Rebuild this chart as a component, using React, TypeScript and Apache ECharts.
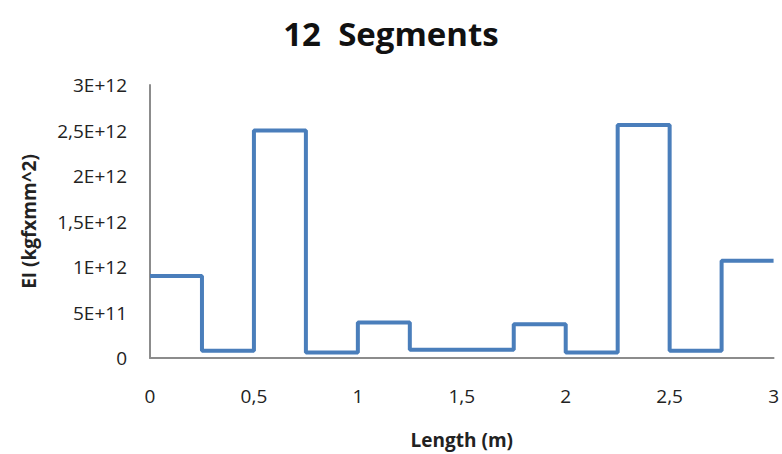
import React, { useEffect, useRef } from "react";
import * as echarts from "echarts";

const segmentStarts = [0, 0.25, 0.5, 0.75, 1, 1.25, 1.5, 1.75, 2, 2.25, 2.5, 2.75];
const segmentEnd = 3;
const eiValues = [0.9e12, 0.08e12, 2.5e12, 0.06e12, 0.39e12, 0.09e12, 0.09e12, 0.37e12, 0.06e12, 2.56e12, 0.08e12, 1.07e12];
const yTickLabels = ["0", "5E+11", "1E+12", "1,5E+12", "2E+12", "2,5E+12", "3E+12"];
const xTickLabels = ["0", "0,5", "1", "1,5", "2", "2,5", "3"];

export default function App() {
  const ref = useRef<HTMLDivElement>(null);
  useEffect(() => {
    if (!ref.current) return;
    const chart = echarts.init(ref.current, undefined, { renderer: "svg" });
    const data: [number, number][] = segmentStarts.map((x, i) => [x, eiValues[i]]);
    data.push([segmentEnd, eiValues[eiValues.length - 1]]);
    const font = "'Open Sans', 'DejaVu Sans', sans-serif";
    chart.setOption({
      animation: false,
      title: {
        text: "12  Segments",
        left: "center",
        top: 12,
        textStyle: { fontFamily: font, fontSize: 33, fontWeight: "bold", color: "#111" },
      },
      grid: { left: 150, right: 4, top: 85, bottom: 93, containLabel: false },
      xAxis: {
        type: "value",
        min: 0,
        max: 3,
        interval: 0.5,
        name: "Length (m)",
        nameLocation: "middle",
        nameGap: 72,
        nameTextStyle: { fontFamily: font, fontSize: 19, fontWeight: "bold", color: "#222" },
        axisLine: { show: true, lineStyle: { color: "#8c8c8c", width: 2 } },
        axisTick: { show: false },
        splitLine: { show: false },
        axisLabel: {
          margin: 28,
          fontFamily: font,
          fontSize: 19,
          color: "#222",
          formatter: (v: number) => xTickLabels[Math.round(v / 0.5)] ?? "",
        },
      },
      yAxis: {
        type: "value",
        min: 0,
        max: 3e12,
        interval: 5e11,
        name: "EI (kgfxmm^2)",
        nameLocation: "middle",
        nameGap: 112,
        nameRotate: 90,
        nameTextStyle: { fontFamily: font, fontSize: 19, fontWeight: "bold", color: "#222" },
        axisLine: { show: true, lineStyle: { color: "#8c8c8c", width: 2 } },
        axisTick: { show: false },
        splitLine: { show: false },
        axisLabel: {
          margin: 23,
          fontFamily: font,
          fontSize: 19,
          color: "#222",
          formatter: (v: number) => yTickLabels[Math.round(v / 5e11)] ?? "",
        },
      },
      series: [
        {
          type: "line",
          step: "end",
          data,
          symbol: "none",
          lineStyle: { color: "#4a7ebb", width: 4 },
        },
      ],
    });
    return () => chart.dispose();
  }, []);
  return <div ref={ref} style={{ width: 782, height: 454, position: "absolute", left: 0, top: 0 }} />;
}
